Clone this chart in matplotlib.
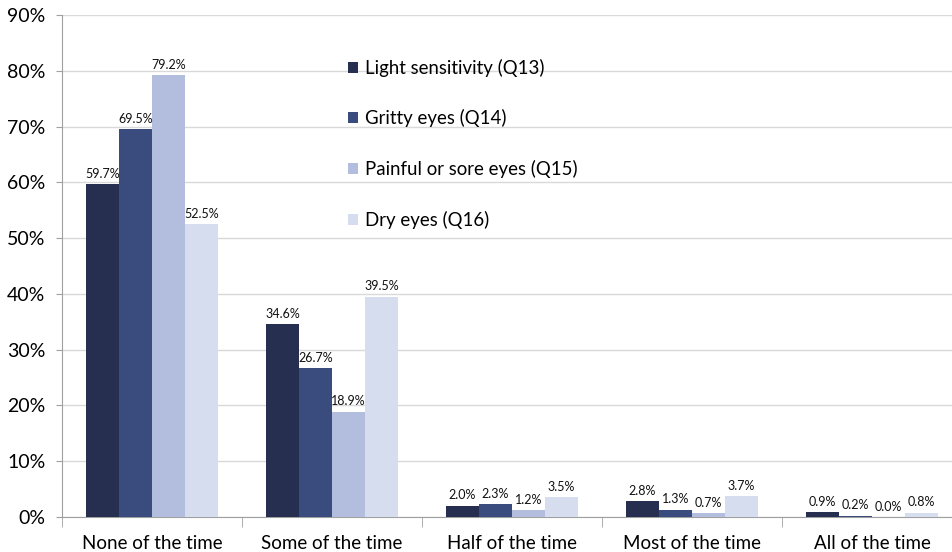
import matplotlib
matplotlib.use("Agg")
import matplotlib.pyplot as plt
import numpy as np

categories = ["None of the time", "Some of the time", "Half of the time", "Most of the time", "All of the time"]
series_names = ["Light sensitivity (Q13)", "Gritty eyes (Q14)", "Painful or sore eyes (Q15)", "Dry eyes (Q16)"]
q13 = [59.7, 34.6, 2.0, 2.8, 0.9]
q14 = [69.5, 26.7, 2.3, 1.3, 0.2]
q15 = [79.2, 18.9, 1.2, 0.7, 0.0]
q16 = [52.5, 39.5, 3.5, 3.7, 0.8]
colors = ["#262f4f", "#3a4c7e", "#b3bedf", "#d6ddee"]
yticks = [0, 10, 20, 30, 40, 50, 60, 70, 80, 90]

plt.rcParams['font.family'] = ['Lato', 'DejaVu Sans']

fig = plt.figure(figsize=(9.53, 5.52), dpi=100)
W, H = 953, 552
ax = fig.add_axes([62 / W, 1 - 517 / H, (962 - 62) / W, (517 - 15) / H])

x = np.arange(len(categories))
bw = 0.183
series = [q13, q14, q15, q16]
for i, (vals, name, c) in enumerate(zip(series, series_names, colors)):
    pos = x + (i - 1.5) * bw
    ax.bar(pos, vals, width=bw, color=c, label=name, zorder=3)
    for p, v in zip(pos, vals):
        ax.text(p, v + 0.8, f"{v:.1f}%", ha="center", va="bottom", fontsize=9, color="#111111", zorder=4)

ax.set_xlim(-0.5, len(categories) - 0.5)
ax.set_ylim(0, 90)
ax.set_yticks(yticks)
ax.set_yticklabels([f"{t}%" for t in yticks], fontsize=14)
ax.yaxis.grid(True, color="#d9d9d9", linewidth=1, zorder=0)
ax.set_axisbelow(True)

ax.set_xticks(x)
ax.set_xticklabels(categories, fontsize=13.5)
ax.tick_params(axis="x", length=0, pad=13)
ax.set_xticks(np.arange(-0.5, len(categories) + 0.5, 1), minor=True)
ax.tick_params(axis="x", which="minor", length=7, color="#a0a0a0")
ax.tick_params(axis="y", length=4, color="#a0a0a0", pad=8)

for s in ["top", "right"]:
    ax.spines[s].set_visible(False)
for s in ["left", "bottom"]:
    ax.spines[s].set_color("#a0a0a0")

leg = ax.legend(loc="upper left", bbox_to_anchor=((331 - 62) / 900, 1 - (42 - 15) / 502),
                frameon=False, fontsize=13.4, labelspacing=1.75, handlelength=0.55, handleheight=0.55,
                handletextpad=0.4)

fig.savefig("out.png", dpi=100)
